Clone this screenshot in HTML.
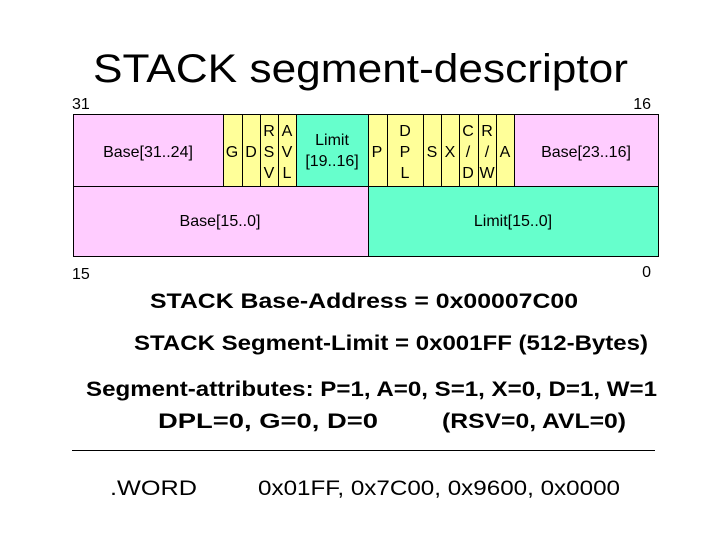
<!DOCTYPE html>
<html><head><meta charset="utf-8"><style>body{margin:0;background:#fff}svg{display:block}text{font-family:"Liberation Sans",Arial,sans-serif}</style></head><body>
<svg width="720" height="540" viewBox="0 0 720 540" xmlns="http://www.w3.org/2000/svg">
<text x="93" y="82" font-size="40" textLength="535" lengthAdjust="spacingAndGlyphs">STACK segment-descriptor</text>
<g font-size="16">
<text x="72" y="109">31</text>
<text x="651" y="109" text-anchor="end">16</text>
<text x="72" y="279">15</text>
<text x="651" y="277" text-anchor="end">0</text>
</g>
<g stroke="#000" stroke-width="1">
<rect x="73.5" y="114.5" width="150" height="72" fill="#ffccff"/>
<rect x="514.5" y="114.5" width="144" height="72" fill="#ffccff"/>
<rect x="223.5" y="114.5" width="73" height="72" fill="#ffff99"/>
<rect x="296.5" y="114.5" width="72" height="72" fill="#66ffcc"/>
<rect x="368.5" y="114.5" width="146" height="72" fill="#ffff99"/>
<line x1="242.5" y1="114" x2="242.5" y2="186"/><line x1="260.5" y1="114" x2="260.5" y2="186"/><line x1="278.5" y1="114" x2="278.5" y2="186"/>
<line x1="387.5" y1="114" x2="387.5" y2="186"/><line x1="423.5" y1="114" x2="423.5" y2="186"/><line x1="441.5" y1="114" x2="441.5" y2="186"/><line x1="459.5" y1="114" x2="459.5" y2="186"/><line x1="478.5" y1="114" x2="478.5" y2="186"/><line x1="496.5" y1="114" x2="496.5" y2="186"/>
<rect x="73.5" y="186.5" width="295" height="70" fill="#ffccff"/>
<rect x="368.5" y="186.5" width="290" height="70" fill="#66ffcc"/>
<line x1="72" y1="450.5" x2="655" y2="450.5"/>
</g>
<g font-size="16" text-anchor="middle">
<text x="148" y="157">Base[31..24]</text>
<text x="586" y="157">Base[23..16]</text>
<text x="332" y="145">Limit</text>
<text x="332" y="166">[19..16]</text>
<text x="232" y="157">G</text><text x="251" y="157">D</text>
<text x="269" y="136">R</text><text x="269" y="157">S</text><text x="269" y="178">V</text>
<text x="287" y="136">A</text><text x="287" y="157">V</text><text x="287" y="178">L</text>
<text x="377" y="157">P</text>
<text x="405" y="136">D</text><text x="405" y="157">P</text><text x="405" y="178">L</text>
<text x="432" y="157">S</text><text x="450" y="157">X</text>
<text x="468" y="136">C</text><text x="468" y="157">/</text><text x="468" y="178">D</text>
<text x="487" y="136">R</text><text x="487" y="157">/</text><text x="487" y="178">W</text>
<text x="505" y="157">A</text>
<text x="220" y="226">Base[15..0]</text>
<text x="513" y="226">Limit[15..0]</text>
</g>
<g font-size="21" font-weight="bold">
<text x="150" y="308" textLength="428" lengthAdjust="spacingAndGlyphs">STACK Base-Address = 0x00007C00</text>
<text x="134" y="350" textLength="514" lengthAdjust="spacingAndGlyphs">STACK Segment-Limit = 0x001FF (512-Bytes)</text>
<text x="86" y="396" textLength="571" lengthAdjust="spacingAndGlyphs">Segment-attributes:  P=1, A=0, S=1, X=0, D=1, W=1</text>
<text x="158" y="428" textLength="220" lengthAdjust="spacingAndGlyphs">DPL=0, G=0, D=0</text>
<text x="442" y="428" textLength="184" lengthAdjust="spacingAndGlyphs">(RSV=0, AVL=0)</text>
</g>
<g font-size="21">
<text x="110" y="495" textLength="87" lengthAdjust="spacingAndGlyphs">.WORD</text>
<text x="258" y="495" textLength="362" lengthAdjust="spacingAndGlyphs">0x01FF, 0x7C00, 0x9600, 0x0000</text>
</g>
</svg>
</body></html>
